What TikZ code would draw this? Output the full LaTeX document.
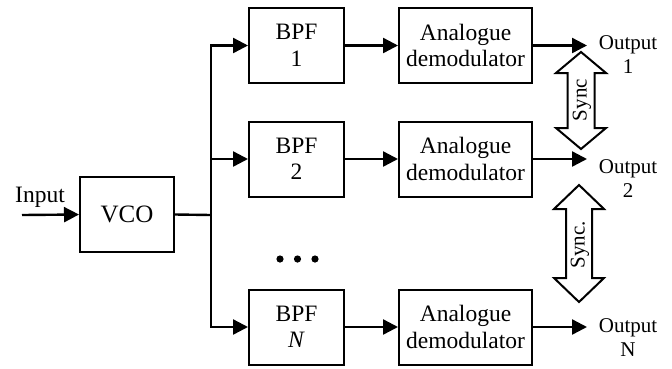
\documentclass[tikz,border=0pt]{standalone}
\usepackage{fontspec}
\setmainfont{Liberation Serif}
\usetikzlibrary{arrows.meta}
\begin{document}
\begin{tikzpicture}[x=1pt,y=-1pt,
  box/.style={draw, line width=2pt, inner sep=0pt, align=center, font=\fontsize{23.5}{26.5}\selectfont},
  bpfbox/.style={box, minimum width=95pt, minimum height=75pt},
  demodbox/.style={box, minimum width=133pt, minimum height=75pt},
  conn/.style={line width=2.4pt},
  arr/.style={conn, -{Triangle[length=15pt,width=15pt]}},
  outlbl/.style={inner sep=0pt, anchor=north, align=center, font=\fontsize{21}{24.5}\selectfont},
  syncarrow/.style={draw, line width=2pt, fill=white, line join=miter},
  synclbl/.style={inner sep=0pt, rotate=90, font=\fontsize{21}{24}\selectfont},
  dot/.style={fill=black, draw=none}
]
\useasboundingbox (0,0) rectangle (672,368);

% VCO and input
\node[box, minimum width=94pt, minimum height=75pt, font=\fontsize{25}{28}\selectfont] (vco) at (127,214.5) {VCO};
\coordinate (inp) at (22,215);
\node[inner sep=0pt, anchor=base, font=\fontsize{23.5}{26}\selectfont] (inlbl) at (40,202) {Input};
\draw[arr] (inp) -- (vco.west);

% BPFs
\node[bpfbox] (bpf1) at (296.5,45.5) {BPF\\1};
\node[bpfbox] (bpf2) at (296.5,159) {BPF\\2};
\node[bpfbox] (bpfn) at (296.5,327) {BPF\\\textit{N}};

% demodulators
\node[demodbox] (dem1) at (465.5,45.5) {Analogue\\demodulator};
\node[demodbox] (dem2) at (465.5,159) {Analogue\\demodulator};
\node[demodbox] (demn) at (465.5,327) {Analogue\\demodulator};

% bus
\coordinate (bus) at (211,215);
\draw[conn] (vco.east) -- (bus);
\draw[arr, line join=miter] (bus) |- (bpf1.west);
\draw[arr] (bus) |- (bpf2.west);
\draw[arr, line join=miter] (bus) |- (bpfn.west);

% BPF -> demod
\draw[arr] (bpf1.east) -- (dem1.west);
\draw[arr] (bpf2.east) -- (dem2.west);
\draw[arr] (bpfn.east) -- (demn.west);

% outputs
\coordinate (o1) at (587,45.5);
\coordinate (o2) at (587,159);
\coordinate (on) at (587,327);
\draw[arr] (dem1.east) -- (o1);
\draw[arr] (dem2.east) -- (o2);
\draw[arr] (demn.east) -- (on);
\node[outlbl] (ol1) at (628,35) {Output\\1};
\node[outlbl] (ol2) at (628,159) {Output\\2};
\node[outlbl] (oln) at (628,318) {Output\\N};

% dots
\fill[dot] (280,259) circle (3.6pt);
\fill[dot] (297.5,259) circle (3.6pt);
\fill[dot] (315,259) circle (3.6pt);

% sync arrows
\draw[syncarrow] (581,52) -- (606,73) -- (594.5,73) -- (594.5,128) -- (606,128) -- (581,149)
  -- (556,128) -- (567.5,128) -- (567.5,73) -- (556,73) -- cycle;
\node[synclbl] (s1) at (582,100) {Sync};
\draw[syncarrow] (579,185) -- (604,209) -- (592,209) -- (592,278) -- (604,278) -- (579,302)
  -- (554,278) -- (566,278) -- (566,209) -- (554,209) -- cycle;
\node[synclbl] (s2) at (580,245) {Sync.};
\end{tikzpicture}
\end{document}
